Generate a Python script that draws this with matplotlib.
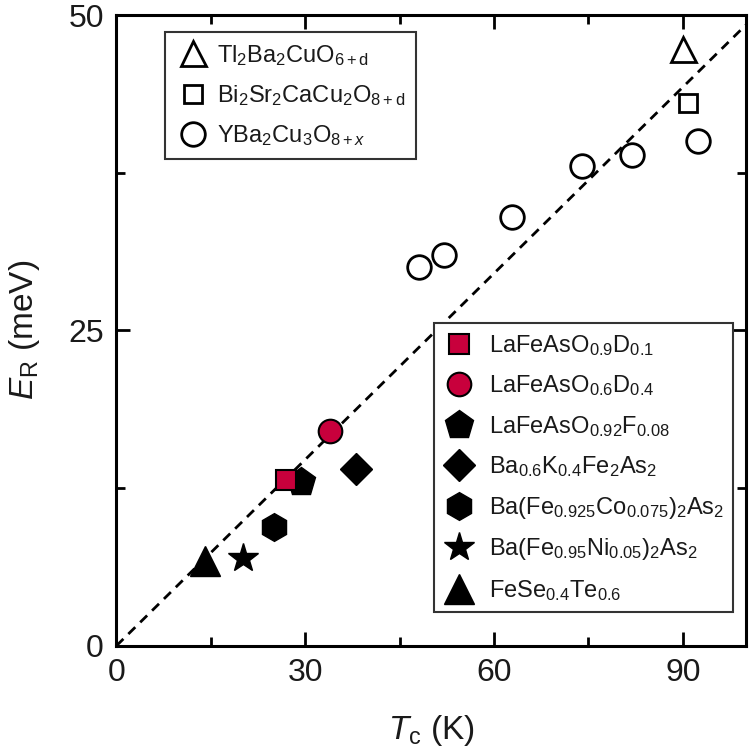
import matplotlib
matplotlib.use("Agg")
import matplotlib.pyplot as plt
from matplotlib.ticker import MultipleLocator

plt.rcParams['font.family'] = ['Liberation Sans', 'DejaVu Sans']
plt.rcParams['mathtext.fontset'] = 'custom'
plt.rcParams['mathtext.rm'] = 'Liberation Sans'
plt.rcParams['mathtext.it'] = 'Liberation Sans:italic'
plt.rcParams['mathtext.bf'] = 'Liberation Sans:bold'

# cuprates (open symbols)
tl_tc = [90.0]
tl_er = [47.3]
bi_tc = [90.8]
bi_er = [43.0]
ybco_tc = [48.0, 52.0, 62.9, 74.0, 81.9, 92.4]
ybco_er = [30.0, 31.0, 34.0, 38.0, 38.9, 40.0]

# iron based (filled symbols)
lfaod1_tc = [26.9]
lfaod1_er = [13.1]
lfaod4_tc = [34.0]
lfaod4_er = [17.0]
lfaof_tc = [29.4]
lfaof_er = [13.0]
bak_tc = [38.1]
bak_er = [14.0]
baco_tc = [25.0]
baco_er = [9.4]
bani_tc = [20.1]
bani_er = [6.95]
fese_tc = [14.1]
fese_er = [6.7]

# dashed guide line
line_tc = [0, 100]
line_er = [0, 49.2]

red = '#C8003C'
ink = '#1a1a1a'

fig = plt.figure(figsize=(7.5, 7.54), dpi=100)
ax = fig.add_axes([0.1553, 0.1436, 0.839, 0.8365])

ax.plot(line_tc, line_er, ls=(0, (3.5, 2.5)), color='black', lw=2.0, zorder=1)

h_tl, = ax.plot(tl_tc, tl_er, '^', ms=18, mfc='none', mec='black', mew=2.0, ls='none', zorder=3)
h_bi, = ax.plot(bi_tc, bi_er, 's', ms=13, mfc='none', mec='black', mew=2.0, ls='none', zorder=3)
h_yb, = ax.plot(ybco_tc, ybco_er, 'o', ms=17, mfc='none', mec='black', mew=2.0, ls='none', zorder=3)

h_lf, = ax.plot(lfaof_tc, lfaof_er, 'p', ms=21, color='black', ls='none', zorder=3)
h_d1, = ax.plot(lfaod1_tc, lfaod1_er, 's', ms=14, mfc=red, mec='black', mew=1.5, ls='none', zorder=4)
h_d4, = ax.plot(lfaod4_tc, lfaod4_er, 'o', ms=17, mfc=red, mec='black', mew=1.5, ls='none', zorder=4)
h_bk, = ax.plot(bak_tc, bak_er, 'D', ms=16, color='black', ls='none', zorder=3)
h_co, = ax.plot(baco_tc, baco_er, 'h', ms=20, color='black', ls='none', zorder=3)
h_ni, = ax.plot(bani_tc, bani_er, '*', ms=22, color='black', ls='none', zorder=3)
h_fs, = ax.plot(fese_tc, fese_er, '^', ms=21, color='black', ls='none', zorder=3)

ax.set_xlim(0, 100)
ax.set_ylim(0, 50)
ax.xaxis.set_major_locator(MultipleLocator(30))
ax.xaxis.set_minor_locator(MultipleLocator(15))
ax.yaxis.set_major_locator(MultipleLocator(25))
ax.yaxis.set_minor_locator(MultipleLocator(12.5))
ax.tick_params(which='both', direction='in', top=True, right=True, width=2.0,
               labelsize=23, labelcolor=ink, pad=9)
ax.tick_params(which='major', length=10)
ax.tick_params(which='minor', length=6.5)
for s in ax.spines.values():
    s.set_linewidth(2.2)

ax.set_xlabel(r'$\mathit{T}_{\mathrm{c}}$ (K)', fontsize=24, color=ink, labelpad=18)
ax.set_ylabel(r'$\mathit{E}_{\mathrm{R}}$ (meV)', fontsize=24, color=ink, labelpad=19)

leg1 = ax.legend([h_tl, h_bi, h_yb],
                 [r'$\mathrm{Tl_2Ba_2CuO_{6+d}}$',
                  r'$\mathrm{Bi_2Sr_2CaCu_2O_{8+d}}$',
                  r'$\mathrm{YBa_2Cu_3O_{8+\mathit{x}}}$'],
                 loc='upper left', bbox_to_anchor=(0.077, 0.973), fontsize=17,
                 frameon=True, fancybox=False, edgecolor='#333333', framealpha=1,
                 handletextpad=0.25, labelspacing=0.65, borderpad=0.45, handlelength=1.5,
                 borderaxespad=0)
leg1.get_frame().set_linewidth(1.5)
for t in leg1.get_texts():
    t.set_color(ink)
ax.add_artist(leg1)

leg2 = ax.legend([h_d1, h_d4, h_lf, h_bk, h_co, h_ni, h_fs],
                 [r'$\mathrm{LaFeAsO_{0.9}D_{0.1}}$',
                  r'$\mathrm{LaFeAsO_{0.6}D_{0.4}}$',
                  r'$\mathrm{LaFeAsO_{0.92}F_{0.08}}$',
                  r'$\mathrm{Ba_{0.6}K_{0.4}Fe_2As_2}$',
                  r'$\mathrm{Ba(Fe_{0.925}Co_{0.075})_2As_2}$',
                  r'$\mathrm{Ba(Fe_{0.95}Ni_{0.05})_2As_2}$',
                  r'$\mathrm{FeSe_{0.4}Te_{0.6}}$'],
                 loc='lower right', bbox_to_anchor=(0.98, 0.053), fontsize=17,
                 frameon=True, fancybox=False, edgecolor='#333333', framealpha=1,
                 handletextpad=0.6, labelspacing=0.66, borderpad=0.4, handlelength=1.3,
                 borderaxespad=0)
leg2.get_frame().set_linewidth(1.5)
for t in leg2.get_texts():
    t.set_color(ink)

fig.savefig('out.png', dpi=100)
